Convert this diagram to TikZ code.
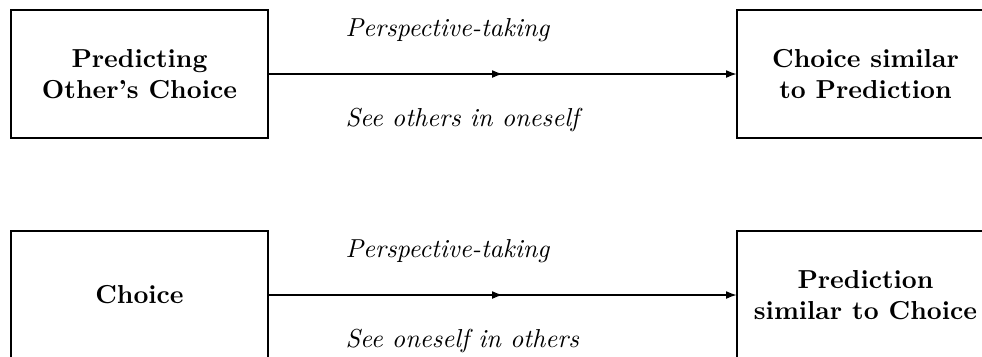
\documentclass[tikz,border=0pt]{standalone}
\usetikzlibrary{arrows.meta,decorations.markings}
\begin{document}
\begin{tikzpicture}[x=0.385pt,y=-0.385pt,
  box/.style={draw,line width=0.4pt,minimum width=257*0.385pt,minimum height=128*0.385pt,inner sep=0pt,align=center,font=\bfseries},
  lbl/.style={font=\itshape,anchor=west,inner sep=0pt},
  conn/.style={line width=0.4pt,-{Latex[length=4pt,width=3pt]},
    postaction={decorate},
    decoration={markings,mark=at position 0.5 with {\arrow{Latex[length=4pt,width=3pt]}}}}]
\useasboundingbox (0,0) rectangle (982,356);
\node[box] (a) at (139.5,74) {Predicting\\Other's Choice};
\node[box] (b) at (865.5,74) {Choice similar\\to Prediction};
\node[box] (c) at (139.5,295) {Choice};
\node[box] (d) at (865.5,295) {Prediction\\similar to Choice};
\draw[conn] (a) -- (b);
\draw[conn] (c) -- (d);
\node[lbl] (t1) at (345,30) {Perspective-taking};
\node[lbl] (t2) at (345,120) {See others in oneself};
\node[lbl] (t3) at (345,251) {Perspective-taking};
\node[lbl] (t4) at (345,341) {See oneself in others};
\end{tikzpicture}
\end{document}
